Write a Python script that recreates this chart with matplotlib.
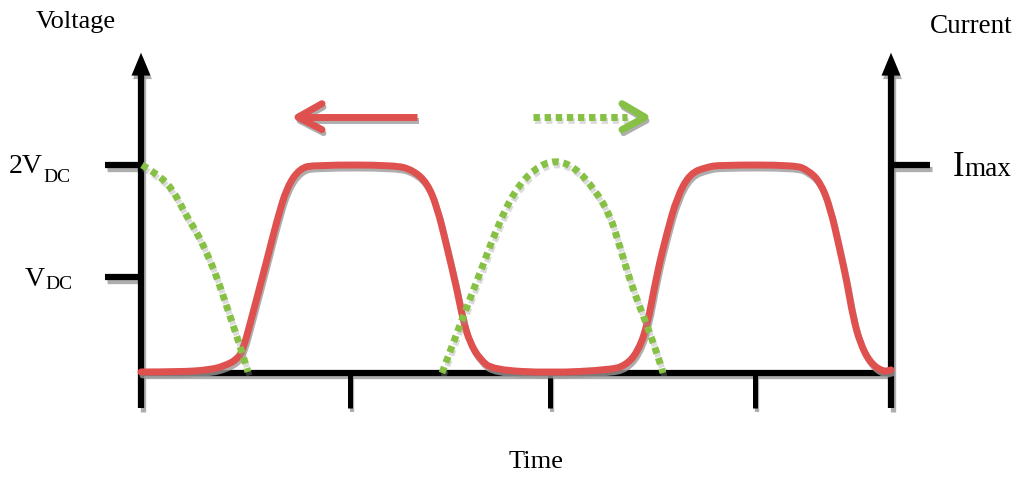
import numpy as np
import matplotlib
matplotlib.use("Agg")
import matplotlib.pyplot as plt
from matplotlib.path import Path
from matplotlib.patches import PathPatch, Polygon
from matplotlib.transforms import offset_copy

plt.rcParams['font.family'] = ['Liberation Serif', 'DejaVu Serif']
plt.rcParams['lines.scale_dashes'] = False

# current waveform (red), time in arbitrary units, amplitude normalised (2 = Imax)
t_cur = [0.00, 0.39, 0.69, 0.84, 0.96, 1.02, 1.12, 1.26, 1.36, 1.46, 1.59, 1.74,
         2.54, 2.72, 2.86, 2.96, 3.06, 3.16, 3.22, 3.29, 3.39, 3.52, 4.09,
         4.69, 4.84, 4.96, 5.06, 5.16, 5.26, 5.36, 5.49, 5.66, 5.79,
         6.54, 6.67, 6.79, 6.89, 6.99, 7.06, 7.12, 7.19, 7.29, 7.42, 7.50]
i_cur = [0.01, 0.01, 0.03, 0.07, 0.13, 0.22, 0.58, 1.09, 1.47, 1.79, 1.97, 2.00,
         2.00, 1.95, 1.83, 1.60, 1.21, 0.80, 0.51, 0.29, 0.13, 0.03, 0.00,
         0.03, 0.07, 0.19, 0.44, 0.96, 1.35, 1.69, 1.92, 1.98, 2.00,
         2.00, 1.95, 1.84, 1.60, 1.18, 0.87, 0.54, 0.29, 0.10, 0.01, 0.03]

# voltage waveform (green dotted), two pieces
t_v1 = [0.01, 0.14, 0.31, 0.46, 0.56, 0.66, 0.76, 0.86, 0.96, 1.07]
v_v1 = [2.00, 1.93, 1.78, 1.50, 1.35, 1.15, 0.92, 0.63, 0.35, 0.01]
t_v2 = [3.01, 3.22, 3.39, 3.56, 3.74, 3.94, 4.14, 4.34, 4.54, 4.69, 4.79, 4.89,
        4.99, 5.09, 5.19, 5.22]
v_v2 = [0.00, 0.54, 0.96, 1.40, 1.76, 1.97, 2.05, 1.98, 1.76, 1.52, 1.21, 0.89,
        0.63, 0.38, 0.10, 0.00]

t_end = 7.50
time_ticks = [2.09, 4.09, 6.14]
volt_ticks = [2.0, 0.92]
volt_labels = [('2V', 'DC'), ('V', 'DC')]
cur_tick = 2.0

red = '#DF514F'
green = '#86C045'
shade = '#9a9a9a'

fig = plt.figure(figsize=(10.24, 4.83), dpi=100)
ax = fig.add_axes([0, 0, 1, 1])
ax.set_xlim(-1.41, 8.83)
ax.set_ylim(-1.058, 3.587)
ax.axis('off')

shadow_tr = offset_copy(ax.transData, fig=fig, x=1.5, y=-3.5, units='dots')


def make_path(x, y, smooth):
    pts = np.column_stack([x, y])
    if not smooth or len(pts) < 3:
        return Path(pts)
    verts = [pts[0]]
    codes = [Path.MOVETO]
    for i in range(1, len(pts) - 1):
        verts += [pts[i], (pts[i] + pts[i + 1]) / 2]
        codes += [Path.CURVE3, Path.CURVE3]
    verts.append(pts[-1])
    codes.append(Path.LINETO)
    return Path(verts, codes)


def draw(x, y, color, lw, ls='solid', smooth=False, cap='butt', z=3, sa=0.8):
    p = make_path(x, y, smooth)
    ax.add_patch(PathPatch(p, fill=False, ec=shade, lw=lw * 0.85, ls=ls, alpha=sa,
                           capstyle=cap, joinstyle='round',
                           transform=shadow_tr, zorder=z - 0.5))
    ax.add_patch(PathPatch(p, fill=False, ec=color, lw=lw, ls=ls,
                           capstyle=cap, joinstyle='round', zorder=z))


def head(x, y):
    ax.add_patch(Polygon(np.column_stack([x, y]), closed=True, fc=shade,
                         ec='none', alpha=0.8, transform=shadow_tr, zorder=2.5))
    ax.add_patch(Polygon(np.column_stack([x, y]), closed=True, fc='black',
                         ec='none', zorder=3))


# horizontal axis and the two vertical axes
draw([0, t_end], [0, 0], 'black', 4.5)
for x in (0, t_end):
    draw([x, x], [-0.34, 2.9], 'black', 4.5)
    head([x - 0.095, x, x + 0.095], [2.86, 3.08, 2.86])

# ticks
for x in time_ticks:
    draw([x, x], [0, -0.34], 'black', 3.6)
for y in volt_ticks:
    draw([-0.36, 0], [y, y], 'black', 4.5)
draw([t_end, t_end + 0.39], [cur_tick, cur_tick], 'black', 4.5)

# waveforms
draw(t_cur, i_cur, red, 5, smooth=True, cap='round', z=4)
dots = (0, (4.6, 3.4))
draw(t_v1, v_v1, green, 5, ls=dots, smooth=True, z=5, sa=0.35)
draw(t_v2, v_v2, green, 5, ls=dots, smooth=True, z=5, sa=0.35)

# direction arrows
ay = 2.46
draw([1.57, 2.76], [ay, ay], red, 5)
draw([1.81, 1.57, 1.81], [ay + 0.13, ay, ay - 0.12], red, 5, cap='round')
draw([3.92, 4.86], [ay, ay], green, 5, ls=dots, sa=0.35)
draw([4.81, 5.04, 4.81], [ay + 0.13, ay, ay - 0.12], green, 5, cap='round')

# labels
ax.text(-0.65, 3.38, 'Voltage', fontsize=19, ha='center', va='center')
ax.text(8.30, 3.33, 'Current', fontsize=19.5, ha='center', va='center')
ax.text(3.95, -0.86, 'Time', fontsize=19, ha='center', va='center')

ax.text(-0.98, 1.92, volt_labels[0][0], fontsize=20, ha='right', va='baseline')
ax.text(-0.98, 1.84, volt_labels[0][1], fontsize=14, ha='left', va='baseline')
ax.text(-0.96, 0.84, volt_labels[1][0], fontsize=20, ha='right', va='baseline')
ax.text(-0.96, 0.81, volt_labels[1][1], fontsize=14, ha='left', va='baseline')

ax.text(8.12, 1.89, 'I', fontsize=25, ha='left', va='baseline')
ax.text(8.23, 1.89, 'max', fontsize=19.5, ha='left', va='baseline')

fig.savefig('out.png', dpi=100)
